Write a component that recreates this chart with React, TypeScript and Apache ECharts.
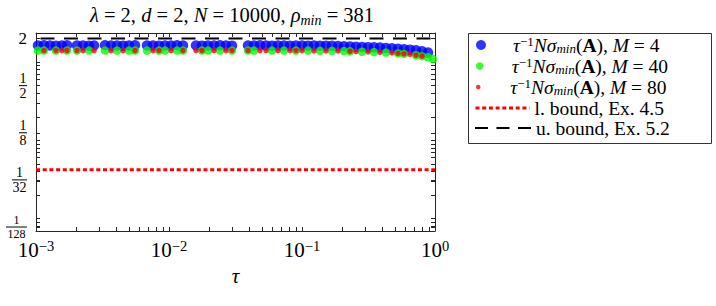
import React, { useEffect, useRef } from "react";
import * as echarts from "echarts";

// ---- data ----
const tauM4 = [
  0.001035, 0.001148, 0.001274, 0.001413, 0.001568, 0.001711, 0.002033, 0.002256, 0.002503, 0.00273,
  0.003303, 0.003664, 0.004065, 0.00451, 0.005004, 0.005551, 0.006834, 0.007582, 0.008412, 0.009331,
  0.01035, 0.01149, 0.01274, 0.01596, 0.0177, 0.01964, 0.02179, 0.02417, 0.02682, 0.02975,
  0.03926, 0.04356, 0.04832, 0.05361, 0.05947, 0.06598, 0.0732, 0.08121, 0.0901, 0.1,
  0.1109, 0.1231, 0.1366, 0.1515, 0.1681, 0.1865, 0.2069, 0.2296, 0.2547, 0.2825,
  0.3134, 0.3478, 0.3859, 0.4281, 0.475, 0.527, 0.5847, 0.6486, 0.7196, 0.7986, 0.8859,
];
const valM4 = [
  1.63, 1.64, 1.63, 1.62, 1.63, 1.64, 1.63, 1.63, 1.62, 1.63,
  1.64, 1.63, 1.63, 1.62, 1.63, 1.64, 1.63, 1.63, 1.62, 1.63,
  1.63, 1.64, 1.63, 1.63, 1.62, 1.63, 1.63, 1.64, 1.63, 1.62,
  1.63, 1.63, 1.64, 1.63, 1.62, 1.63, 1.63, 1.62, 1.63, 1.63,
  1.62, 1.63, 1.62, 1.62, 1.61, 1.6, 1.59, 1.58, 1.57, 1.56,
  1.55, 1.54, 1.53, 1.51, 1.5, 1.48, 1.46, 1.44, 1.41, 1.37, 1.32,
];
const tauM40 = [
  0.001035, 0.001148, 0.001413, 0.001711, 0.002033, 0.002503, 0.003303, 0.004065, 0.005004, 0.005551,
  0.006834, 0.008412, 0.009331, 0.01149, 0.01274, 0.0177, 0.01964, 0.02417, 0.02975, 0.03926,
  0.04356, 0.05947, 0.0732, 0.0901, 0.1109, 0.1366, 0.1681, 0.2069, 0.2296, 0.2825,
  0.3478, 0.4281, 0.527, 0.5847, 0.7196, 0.7986, 0.8859, 0.966,
];
const valM40 = [
  1.4, 1.4, 1.4, 1.4, 1.4, 1.4, 1.4, 1.4, 1.4, 1.4,
  1.4, 1.4, 1.4, 1.4, 1.4, 1.4, 1.4, 1.4, 1.4, 1.4,
  1.4, 1.4, 1.4, 1.4, 1.4, 1.39, 1.39, 1.38, 1.37, 1.355,
  1.34, 1.32, 1.29, 1.27, 1.22, 1.19, 1.15, 1.09,
];
const tauM80 = [
  0.001148, 0.001413, 0.001568, 0.001711, 0.002033, 0.002256, 0.00273, 0.003664, 0.00451, 0.005551,
  0.007582, 0.008412, 0.01035, 0.01274, 0.01596, 0.0177, 0.02179, 0.02682, 0.02975, 0.03926,
  0.04832, 0.05361, 0.06598, 0.08121, 0.0901, 0.1, 0.1231, 0.1515, 0.1865, 0.2296,
  0.2547, 0.3134, 0.3859, 0.475, 0.527, 0.5847, 0.6486, 0.7196, 0.7986,
];
const valM80 = [
  1.4, 1.4, 1.4, 1.4, 1.4, 1.4, 1.4, 1.4, 1.4, 1.4,
  1.4, 1.4, 1.4, 1.4, 1.4, 1.4, 1.4, 1.4, 1.4, 1.4,
  1.4, 1.4, 1.4, 1.4, 1.4, 1.4, 1.39, 1.39, 1.39, 1.37,
  1.36, 1.35, 1.33, 1.31, 1.29, 1.27, 1.25, 1.22, 1.19,
];
const lowerBound = 0.042;
const upperBound = 2.0;
const tauRange = [0.001, 1];
const yRange = [0.00695, 2.35];

const xLabelValues = [0.001, 0.01, 0.1, 1];
const xTickValues = [
  0.001, 0.002, 0.003, 0.004, 0.005, 0.006, 0.007, 0.008, 0.009,
  0.01, 0.02, 0.03, 0.04, 0.05, 0.06, 0.07, 0.08, 0.09,
  0.1, 0.2, 0.3, 0.4, 0.5, 0.6, 0.7, 0.8, 0.9, 1,
];
const yLabelValues = [1 / 128, 1 / 32, 1 / 8, 1 / 2, 2];
const yTickValues = [
  0.007, 0.0078125, 0.008, 0.009,
  0.01, 0.02, 0.03, 0.03125, 0.04, 0.05, 0.06, 0.07, 0.08, 0.09,
  0.1, 0.125, 0.2, 0.3, 0.4, 0.5, 0.6, 0.7, 0.8, 0.9, 1, 2,
];

const seriesNames = [
  "τ⁻¹Nσmin(A), M = 4",
  "τ⁻¹Nσmin(A), M = 40",
  "τ⁻¹Nσmin(A), M = 80",
  "l. bound, Ex. 4.5",
  "u. bound, Ex. 5.2",
];
const legendRich = [
  "{i|τ}{sup|−1}{i|Nσ}{sub|min}{r|(}{b|A}{r|), }{i|M}{r| = 4}",
  "{i|τ}{sup|−1}{i|Nσ}{sub|min}{r|(}{b|A}{r|), }{i|M}{r| = 40}",
  "{i|τ}{sup|−1}{i|Nσ}{sub|min}{r|(}{b|A}{r|), }{i|M}{r| = 80}",
  "{r|l. bound, Ex. 4.5}",
  "{r|u. bound, Ex. 5.2}",
];
const titleRich = "{i|λ}{r| = 2, }{i|d}{r| = 2, }{i|N}{r| = 10000, }{i|ρ}{sub|min}{r| = 381}";

const SERIF = "'Liberation Serif', 'DejaVu Serif', serif";
const AX = "#262626";

const pairs = (t: number[], v: number[]) => t.map((x, i) => [x, v[i]]);

function buildOption(): any {
  const richBase = { fontFamily: SERIF, color: "#000" };
  const LF = 19.5;
  const textRich = {
    r: { ...richBase, fontSize: LF, lineHeight: 20 },
    i: { ...richBase, fontSize: LF, lineHeight: 20, fontStyle: "italic" },
    b: { ...richBase, fontSize: LF, lineHeight: 20, fontWeight: "bold" },
    sup: { ...richBase, fontSize: 13, lineHeight: 12, verticalAlign: "top" },
    sub: { ...richBase, fontSize: 13, lineHeight: 12, verticalAlign: "bottom", fontStyle: "italic" },
  };
  const legendFmt = (name: string) => legendRich[seriesNames.indexOf(name)];
  const hidden = { color: "rgba(0,0,0,0)", borderColor: "rgba(0,0,0,0)", borderWidth: 0, opacity: 0 };
  const legendRows: any[] = [
    { name: seriesNames[0], cy: 45, left: 476, w: 54, h: 10 },
    { name: seriesNames[1], cy: 66, left: 476, w: 54, h: 7.5 },
    { name: seriesNames[2], cy: 87, left: 476, w: 54, h: 4.5 },
    {
      name: seriesNames[3], cy: 108, left: 474, w: 54, h: 10,
      extra: { itemStyle: hidden, lineStyle: { width: 3, type: [4, 2.7], dashOffset: 0, color: "#ff0000" } },
    },
    {
      name: seriesNames[4], cy: 128, left: 474, w: 56, h: 10,
      extra: { itemStyle: hidden, lineStyle: { width: 2, type: [13, 8.5], dashOffset: 0, color: "#000" } },
    },
  ];
  const legends = legendRows.map((r) => ({
    data: [r.name],
    left: r.left,
    top: r.cy - 10,
    orient: "vertical",
    padding: 0,
    itemGap: 0,
    itemWidth: r.w,
    itemHeight: r.h,
    selectedMode: false,
    formatter: legendFmt,
    ...(r.extra || {}),
    textStyle: { fontFamily: SERIF, fontSize: LF, color: "#000", rich: textRich },
  }));

  const xFmt = (v: number) => {
    const e = Math.round(Math.log10(v));
    return `{b|10}{s|${e < 0 ? "−" + -e : e}}`;
  };
  const yFmt = (v: number) => {
    const e = Math.round(Math.log2(v));
    if (e === 1) return "{w|2}";
    const den = String(Math.pow(2, -e));
    const k = den.length;
    return `{n${k}|1}\n{bar${k}| }\n{n${k}|${den}}`;
  };
  const fracBase = { fontFamily: SERIF, color: "#000", align: "center" };
  const barBase = { height: 1, lineHeight: 3, fontSize: 1, backgroundColor: "#000", align: "center" };
  const yRich = {
    w: { fontFamily: SERIF, color: "#000", fontSize: 17 },
    n1: { ...fracBase, fontSize: 14, lineHeight: 12 },
    n2: { ...fracBase, fontSize: 14, lineHeight: 12 },
    n3: { ...fracBase, fontSize: 12, lineHeight: 10.5 },
    bar1: { ...barBase, width: 8 },
    bar2: { ...barBase, width: 15 },
    bar3: { ...barBase, width: 21 },
  };

  const xCommon = {
    type: "log",
    logBase: 10,
    min: tauRange[0],
    max: tauRange[1],
    splitLine: { show: false },
    minorTick: { show: false },
    axisLine: { show: true, onZero: false, lineStyle: { color: AX, width: 1 } },
    axisTick: { show: true, inside: true, length: 4, customValues: xTickValues, lineStyle: { color: AX } },
  };
  const yCommon = {
    type: "log",
    logBase: 2,
    min: yRange[0],
    max: yRange[1],
    splitLine: { show: false },
    minorTick: { show: false },
    axisLine: { show: true, onZero: false, lineStyle: { color: AX, width: 1 } },
    axisTick: { show: true, inside: true, length: 4, customValues: yTickValues, lineStyle: { color: AX } },
  };

  return {
    animation: false,
    backgroundColor: "#fff",
    grid: { left: 36, right: 281, top: 33, bottom: 75 },
    graphic: [
      {
        type: "text",
        x: 232,
        y: 15,
        style: {
          text: titleRich,
          align: "center",
          verticalAlign: "middle",
          fontFamily: SERIF,
          fontSize: 20.5,
          fill: "#000",
          rich: {
            r: { fontFamily: SERIF, fontSize: 20.5, lineHeight: 24, color: "#000" },
            i: { fontFamily: SERIF, fontSize: 20.5, lineHeight: 24, fontStyle: "italic", color: "#000" },
            sub: { fontFamily: SERIF, fontSize: 14, lineHeight: 13, fontStyle: "italic", verticalAlign: "bottom", color: "#000" },
          },
        },
      },
      {
        type: "rect",
        shape: { x: 468.5, y: 33.5, width: 243, height: 110 },
        style: { fill: "none", stroke: "#333", lineWidth: 1 },
        z: -1,
      },
    ],
    legend: legends,
    xAxis: [
      {
        ...xCommon,
        position: "bottom",
        axisLabel: {
          customValues: xLabelValues,
          formatter: xFmt,
          margin: 7,
          rich: {
            b: { fontFamily: SERIF, fontSize: 21, lineHeight: 24, color: "#000" },
            s: { fontFamily: SERIF, fontSize: 14.5, lineHeight: 13, verticalAlign: "top", color: "#000" },
          },
        },
        name: "τ",
        nameLocation: "middle",
        nameGap: 29,
        nameTextStyle: { fontFamily: SERIF, fontStyle: "italic", fontSize: 21, color: "#000" },
      },
      { ...xCommon, position: "top", axisLabel: { show: false } },
    ],
    yAxis: [
      {
        ...yCommon,
        position: "left",
        axisLabel: { customValues: yLabelValues, formatter: yFmt, margin: 9, align: "right", rich: yRich },
      },
      { ...yCommon, position: "right", axisLabel: { show: false } },
    ],
    series: [
      {
        name: seriesNames[0],
        type: "scatter",
        data: pairs(tauM4, valM4),
        symbol: "circle",
        symbolSize: 10.5,
        itemStyle: { color: "#0000ff" },
      },
      {
        name: seriesNames[1],
        type: "scatter",
        data: pairs(tauM40, valM40),
        symbol: "circle",
        symbolSize: 8.5,
        itemStyle: { color: "#00ff00" },
      },
      {
        name: seriesNames[2],
        type: "scatter",
        data: pairs(tauM80, valM80),
        symbol: "circle",
        symbolSize: 5.5,
        itemStyle: { color: "#ff0000" },
      },
      {
        name: seriesNames[3],
        type: "line",
        data: [
          [tauRange[0], lowerBound],
          [tauRange[1], lowerBound],
        ],
        symbol: "none",
        itemStyle: { color: "#ff0000" },
        lineStyle: { color: "#ff0000", width: 3, type: [4, 2.7] },
      },
      {
        name: seriesNames[4],
        type: "line",
        data: [
          [tauRange[0], upperBound],
          [tauRange[1], upperBound],
        ],
        symbol: "none",
        itemStyle: { color: "#000" },
        lineStyle: { color: "#000", width: 2, type: [14, 9.5], dashOffset: 19 },
      },
    ],
  };
}

export default function App() {
  const ref = useRef<HTMLDivElement>(null);
  useEffect(() => {
    const chart = echarts.init(ref.current!, null, { renderer: "svg" });
    chart.setOption(buildOption());
    return () => chart.dispose();
  }, []);
  return (
    <div
      ref={ref}
      style={{ position: "fixed", left: 0, top: 0, width: 716, height: 306, background: "#fff" }}
    />
  );
}
